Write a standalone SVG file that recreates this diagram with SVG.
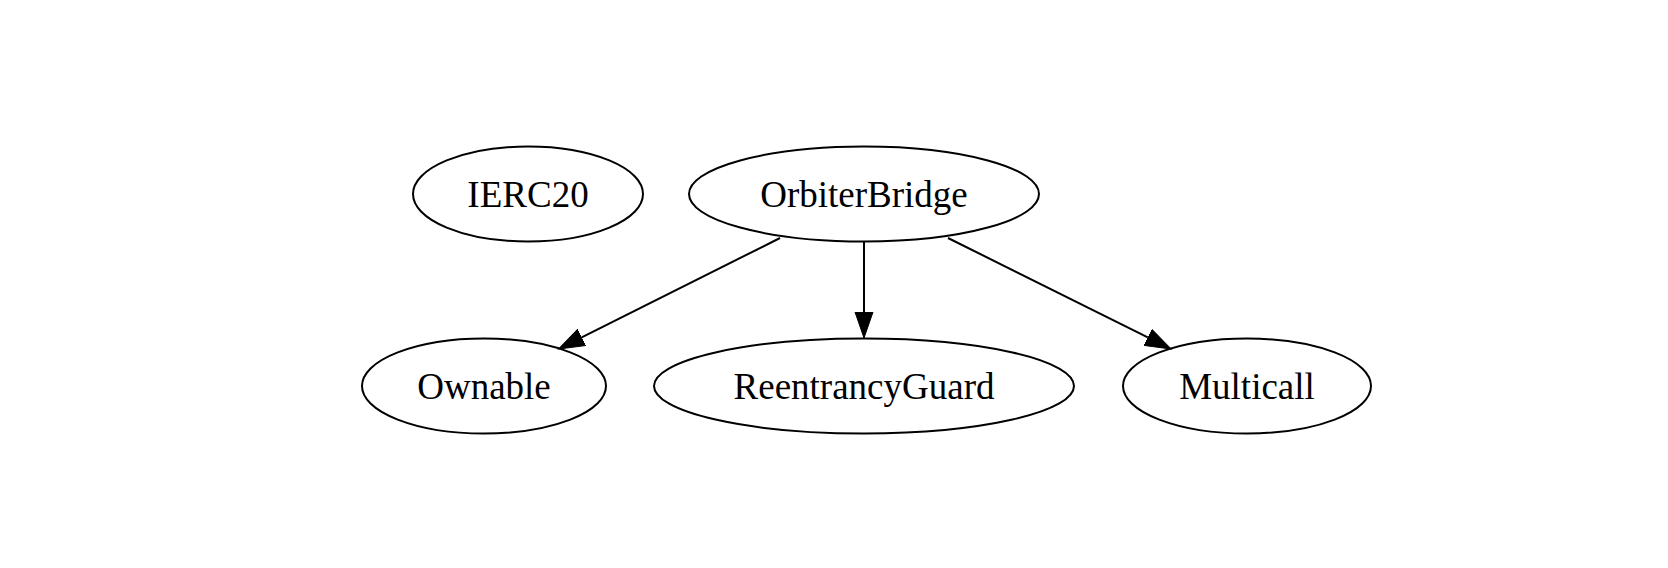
<svg xmlns="http://www.w3.org/2000/svg" width="1668" height="568" viewBox="0 0 1668 568">
<style>
.node ellipse{fill:none;stroke:#000;stroke-width:2}
.node text{font-family:"Liberation Serif","Times New Roman",serif;font-size:37px;text-anchor:middle;fill:#000}
.edge line{stroke:#000;stroke-width:2;fill:none}
</style>
<defs>
<marker id="arrow" markerUnits="userSpaceOnUse" markerWidth="28" markerHeight="20" refX="0" refY="9.5" orient="auto" viewBox="0 0 28 20">
<path d="M0,0.5 L26,9.5 L0,18.5 z" fill="#000" stroke="#000" stroke-width="1"/>
</marker>
</defs>
<rect width="1668" height="568" fill="#fff"/>
<g id="IERC20" class="node">
<ellipse cx="528" cy="194" rx="115" ry="47.5"/>
<text x="528" y="207">IERC20</text>
</g>
<g id="OrbiterBridge" class="node">
<ellipse cx="864" cy="194" rx="175" ry="47.5"/>
<text x="864" y="207">OrbiterBridge</text>
</g>
<g id="Ownable" class="node">
<ellipse cx="484" cy="386" rx="122" ry="47.5"/>
<text x="484" y="399">Ownable</text>
</g>
<g id="ReentrancyGuard" class="node">
<ellipse cx="864" cy="386" rx="210" ry="47.5"/>
<text x="864" y="399">ReentrancyGuard</text>
</g>
<g id="Multicall" class="node">
<ellipse cx="1247" cy="386" rx="124" ry="47.5"/>
<text x="1247" y="399">Multicall</text>
</g>
<g id="connectors" class="edge">
<line x1="780" y1="238" x2="581.7" y2="337.4" marker-end="url(#arrow)"/>
<line x1="864" y1="241.5" x2="864" y2="312" marker-end="url(#arrow)"/>
<line x1="948" y1="238" x2="1147.8" y2="337.4" marker-end="url(#arrow)"/>
</g>
</svg>
